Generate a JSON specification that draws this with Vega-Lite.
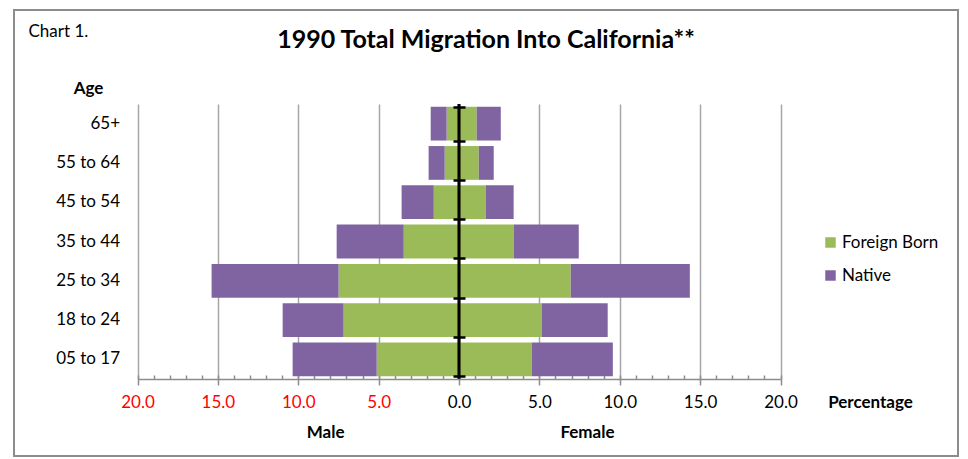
{
  "$schema": "https://vega.github.io/schema/vega-lite/v6.json",
  "width": 944,
  "height": 446,
  "autosize": {"type": "none"},
  "padding": {"left": 14, "top": 10, "right": 10, "bottom": 3},
  "background": "white",
  "config": {"font": "Lato", "view": {"stroke": "#8c8c8c", "strokeWidth": 2}},
  "title": {"text": "1990 Total Migration Into California**", "fontSize": 25, "fontWeight": "bold", "color": "black", "anchor": "middle", "frame": "group", "offset": 0, "dy": 43},
  "data": {"values": [
    {"age": "65+", "sex": "Male", "type": "Foreign Born", "value": -0.77},
    {"age": "65+", "sex": "Male", "type": "Native", "value": -0.99},
    {"age": "65+", "sex": "Female", "type": "Foreign Born", "value": 1.10},
    {"age": "65+", "sex": "Female", "type": "Native", "value": 1.50},
    {"age": "55 to 64", "sex": "Male", "type": "Foreign Born", "value": -0.89},
    {"age": "55 to 64", "sex": "Male", "type": "Native", "value": -1.00},
    {"age": "55 to 64", "sex": "Female", "type": "Foreign Born", "value": 1.23},
    {"age": "55 to 64", "sex": "Female", "type": "Native", "value": 0.93},
    {"age": "45 to 54", "sex": "Male", "type": "Foreign Born", "value": -1.57},
    {"age": "45 to 54", "sex": "Male", "type": "Native", "value": -2.00},
    {"age": "45 to 54", "sex": "Female", "type": "Foreign Born", "value": 1.66},
    {"age": "45 to 54", "sex": "Female", "type": "Native", "value": 1.74},
    {"age": "35 to 44", "sex": "Male", "type": "Foreign Born", "value": -3.44},
    {"age": "35 to 44", "sex": "Male", "type": "Native", "value": -4.17},
    {"age": "35 to 44", "sex": "Female", "type": "Foreign Born", "value": 3.40},
    {"age": "35 to 44", "sex": "Female", "type": "Native", "value": 4.05},
    {"age": "25 to 34", "sex": "Male", "type": "Foreign Born", "value": -7.49},
    {"age": "25 to 34", "sex": "Male", "type": "Native", "value": -7.90},
    {"age": "25 to 34", "sex": "Female", "type": "Foreign Born", "value": 6.95},
    {"age": "25 to 34", "sex": "Female", "type": "Native", "value": 7.41},
    {"age": "18 to 24", "sex": "Male", "type": "Foreign Born", "value": -7.18},
    {"age": "18 to 24", "sex": "Male", "type": "Native", "value": -3.79},
    {"age": "18 to 24", "sex": "Female", "type": "Foreign Born", "value": 5.15},
    {"age": "18 to 24", "sex": "Female", "type": "Native", "value": 4.10},
    {"age": "05 to 17", "sex": "Male", "type": "Foreign Born", "value": -5.12},
    {"age": "05 to 17", "sex": "Male", "type": "Native", "value": -5.23},
    {"age": "05 to 17", "sex": "Female", "type": "Foreign Born", "value": 4.52},
    {"age": "05 to 17", "sex": "Female", "type": "Native", "value": 5.05}
  ]},
  "layer": [
    {
      "mark": {"type": "bar"},
      "encoding": {
        "y": {
          "field": "age", "type": "ordinal",
          "scale": {"domain": ["65+", "55 to 64", "45 to 54", "35 to 44", "25 to 34", "18 to 24", "05 to 17"], "range": [94, 369], "paddingInner": 0.14, "paddingOuter": 0.07},
          "axis": {"orient": "left", "offset": -123.5, "domain": false, "ticks": false, "tickSize": 0, "grid": false, "labelPadding": 18, "labelFontSize": 17, "labelColor": "black", "title": "Age", "titleAngle": 0, "titleX": -49.5, "titleY": 78, "titleAlign": "center", "titleBaseline": "middle", "titleFontSize": 17, "titleFontWeight": "bold", "titleColor": "black", "zindex": 1}
        },
        "x": {
          "field": "value", "type": "quantitative", "stack": "zero",
          "scale": {"domain": [-20, 20], "range": [123.5, 766.5], "nice": false, "zero": false},
          "axis": {"orient": "bottom", "offset": -77, "values": [-20, -15, -10, -5, 0, 5, 10, 15, 20], "grid": false, "domain": true, "domainColor": "#8c8c8c", "domainWidth": 1.5, "ticks": true, "tickSize": 6, "tickColor": "#8c8c8c", "tickWidth": 1.5, "labelExpr": "format(abs(datum.value), '.1f')", "labelColor": {"condition": {"test": "datum.value < 0", "value": "#ff0000"}, "value": "#000000"}, "labelFontSize": 17, "labelPadding": 9, "labelFlush": false, "labelOverlap": false, "title": "Percentage", "titleX": 856, "titleY": 23.5, "titleAlign": "center", "titleBaseline": "middle", "titleFontSize": 17, "titleFontWeight": "bold", "titleColor": "black", "zindex": 1}
        },
        "color": {
          "field": "type", "type": "nominal",
          "scale": {"domain": ["Foreign Born", "Native"], "range": ["#9BBB59", "#8064A2"]},
          "legend": {"orient": "none", "legendX": 808, "legendY": 224, "title": null, "symbolType": "square", "symbolSize": 110, "symbolStrokeWidth": 0, "labelFontSize": 17, "labelColor": "black", "labelOffset": 3, "rowPadding": 15, "padding": 0}
        }
      }
    },
    {
      "mark": {"type": "tick", "color": "black", "thickness": 2.5, "size": 39.3},
      "encoding": {
        "x": {
          "datum": 0,
          "axis": {"orient": "top", "offset": -369, "values": [-20, -19, -18, -17, -16, -15, -14, -13, -12, -11, -10, -9, -8, -7, -6, -5, -4, -3, -2, -1, 0, 1, 2, 3, 4, 5, 6, 7, 8, 9, 10, 11, 12, 13, 14, 15, 16, 17, 18, 19, 20], "domain": false, "labels": false, "ticks": true, "tickSize": 4, "tickColor": "#8c8c8c", "tickWidth": 1.5, "grid": true, "gridColor": "#a6a6a6", "gridWidth": 1.5, "gridOpacity": {"condition": {"test": "datum.value % 5 === 0", "value": 1}, "value": 0}, "title": "Chart 1.", "titleX": 14, "titleY": -347.5, "titleAlign": "left", "titleBaseline": "middle", "titleFontSize": 17, "titleFontWeight": "normal", "titleColor": "black", "zindex": 0}
        },
        "y": {
          "field": "age", "type": "ordinal",
          "axis": {"orient": "right", "offset": -505, "domain": false, "labels": false, "ticks": true, "tickSize": 12, "tickWidth": 2.5, "tickColor": "black", "tickBand": "extent", "grid": false, "title": null, "zindex": 2}
        }
      }
    },
    {
      "mark": {"type": "rule", "opacity": 0},
      "encoding": {
        "x": {
          "datum": 0,
          "axis": {"orient": "bottom", "offset": -77, "values": [-8.33, 7.96], "labelExpr": "datum.value < 0 ? 'Male' : 'Female'", "domain": false, "ticks": false, "tickSize": 0, "grid": false, "labelPadding": 53, "labelBaseline": "middle", "labelFontSize": 17, "labelFontWeight": "bold", "labelColor": "black", "labelFlush": false, "labelOverlap": false, "title": null}
        }
      }
    }
  ],
  "resolve": {"axis": {"x": "independent", "y": "independent"}}
}
